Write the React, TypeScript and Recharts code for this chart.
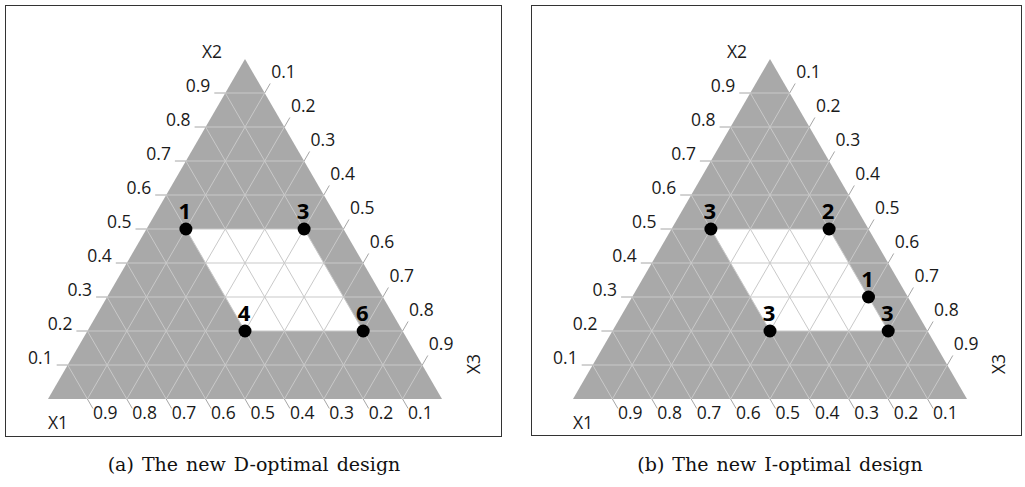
import { ComposedChart, Area, Scatter, XAxis, YAxis, ReferenceLine } from 'recharts';

// grid levels shown on every side of the simplex
const LEVELS = [0.1, 0.2, 0.3, 0.4, 0.5, 0.6, 0.7, 0.8, 0.9];
const LEVEL_LABELS = ['0.1', '0.2', '0.3', '0.4', '0.5', '0.6', '0.7', '0.8', '0.9'];
const AXIS_NAMES = ['X1', 'X2', 'X3'];

// constrained region: 0.1 <= X1 <= 0.4, 0.2 <= X2 <= 0.5
const X1_RANGE = [0.1, 0.4];
const X2_RANGE = [0.2, 0.5];

// design points as (X1, X2, X3) with the number of replicates
const D_POINTS = [
  [0.4, 0.5, 0.1],
  [0.1, 0.5, 0.4],
  [0.4, 0.2, 0.4],
  [0.1, 0.2, 0.7],
];
const D_COUNTS = ['1', '3', '4', '6'];

const I_POINTS = [
  [0.4, 0.5, 0.1],
  [0.1, 0.5, 0.4],
  [0.1, 0.3, 0.6],
  [0.4, 0.2, 0.4],
  [0.1, 0.2, 0.7],
];
const I_COUNTS = ['3', '2', '1', '3', '3'];

const CAPTIONS = ['(a) The new D-optimal design', '(b) The new I-optimal design'];

// layout (pixels)
const SIDE = 394;
const TRI_H = 340;
const TICK_LEN = 11;
const FONT = '"Open Sans", "Noto Sans", sans-serif';
const FS = 17.5;
const GRAY = '#a9a9a9';
const GRID = '#c9c9c9';
const TEXT = '#1a1a1a';

const PANELS = [
  { left: 5, top: 5, width: 497, height: 432, triX: 48, triY: 399, capX: 254 },
  { left: 531, top: 5, width: 491, height: 431, triX: 573, triY: 399, capX: 780 },
];

// ternary (X1, X2, X3) -> plane, y is X2 itself
const toXY = (x1: number, x2: number, x3: number) => ({ x: x3 + x2 / 2, y: x2 });

const triangle = [toXY(1, 0, 0), toXY(0, 1, 0), toXY(0, 0, 1)];

function whiteRegion() {
  const tl = toXY(X1_RANGE[1], X2_RANGE[1], 1 - X1_RANGE[1] - X2_RANGE[1]);
  const tr = toXY(X1_RANGE[0], X2_RANGE[1], 1 - X1_RANGE[0] - X2_RANGE[1]);
  const bl = toXY(X1_RANGE[1], X2_RANGE[0], 1 - X1_RANGE[1] - X2_RANGE[0]);
  const br = toXY(X1_RANGE[0], X2_RANGE[0], 1 - X1_RANGE[0] - X2_RANGE[0]);
  return [
    { x: tl.x, range: [tl.y, tl.y] },
    { x: bl.x, range: [bl.y, tl.y] },
    { x: tr.x, range: [bl.y, tr.y] },
    { x: br.x, range: [br.y, br.y] },
  ];
}

// grid segments and their tick extensions
function gridLines() {
  const lines: { a: any; b: any }[] = [];
  const ticks: { a: any; b: any }[] = [];
  const lx = TICK_LEN / SIDE;
  const sl = TICK_LEN / Math.sqrt((0.5 * SIDE) ** 2 + TRI_H ** 2);
  LEVELS.forEach((k) => {
    // X2 = k
    const l0 = toXY(1 - k, k, 0);
    lines.push({ a: l0, b: toXY(0, k, 1 - k) });
    ticks.push({ a: l0, b: { x: l0.x - lx, y: l0.y } });
    // X3 = k
    const r0 = toXY(0, 1 - k, k);
    lines.push({ a: toXY(1 - k, 0, k), b: r0 });
    ticks.push({ a: r0, b: { x: r0.x + 0.5 * sl, y: r0.y + sl } });
    // X1 = k
    const b0 = toXY(k, 0, 1 - k);
    lines.push({ a: b0, b: toXY(k, 1 - k, 0) });
    ticks.push({ a: b0, b: { x: b0.x + 0.5 * sl, y: b0.y - sl } });
  });
  return { lines, ticks };
}

function tickLabels() {
  const lx = TICK_LEN / SIDE;
  const sl = TICK_LEN / Math.sqrt((0.5 * SIDE) ** 2 + TRI_H ** 2);
  const out: any[] = [];
  LEVELS.forEach((k, i) => {
    const l0 = toXY(1 - k, k, 0);
    out.push({ x: l0.x - lx, y: l0.y, text: LEVEL_LABELS[i], anchor: 'end', dx: -4, dy: -1 });
    const r0 = toXY(0, 1 - k, k);
    out.push({ x: r0.x + 0.5 * sl, y: r0.y + sl, text: LEVEL_LABELS[i], anchor: 'start', dx: 1, dy: -5 });
    const b0 = toXY(k, 0, 1 - k);
    out.push({ x: b0.x + 0.5 * sl, y: b0.y - sl, text: LEVEL_LABELS[i], anchor: 'start', dx: 0, dy: 10 });
  });
  const [c1, c2, c3] = triangle;
  out.push({ x: c1.x, y: c1.y, text: AXIS_NAMES[0], anchor: 'middle', dx: 10, dy: 30 });
  out.push({ x: c2.x, y: c2.y, text: AXIS_NAMES[1], anchor: 'middle', dx: -33, dy: -1 });
  out.push({ x: c3.x, y: c3.y, text: AXIS_NAMES[2], anchor: 'middle', dx: 31, dy: -35, rotate: true });
  return out;
}

const TextShape = (props: any) => {
  const { cx, cy, payload } = props;
  const x = cx + payload.dx;
  const y = cy + payload.dy;
  if (payload.rotate) {
    return (
      <text x={x} y={y} textAnchor="middle" dominantBaseline="central" transform={`rotate(-90 ${x} ${y})`}
        fontFamily={FONT} fontSize={FS} fill={TEXT}>{payload.text}</text>
    );
  }
  return (
    <text x={x} y={y} textAnchor={payload.anchor} fontFamily={FONT} fontSize={FS} fill={TEXT}>
      {payload.text}
    </text>
  );
};

const DotShape = (props: any) => <circle cx={props.cx} cy={props.cy} r={6.5} fill="#000" />;

const CountShape = (props: any) => (
  <text x={props.cx - 1} y={props.cy - 10} textAnchor="middle" fontFamily={FONT} fontWeight="bold" fontSize={22} fill="#000">
    {props.payload.count}
  </text>
);

function Panel({ geo, points, counts, caption }: any) {
  const innerLeft = geo.left + 1;
  const innerTop = geo.top + 1;
  const w = geo.width - 2;
  const h = geo.height - 2;
  const xDomain = [(innerLeft - geo.triX) / SIDE, (innerLeft + w - geo.triX) / SIDE];
  const yDomain = [(geo.triY - (innerTop + h)) / TRI_H, (geo.triY - innerTop) / TRI_H];

  const { lines, ticks } = gridLines();
  const labels = tickLabels();
  const design = points.map((p: number[], i: number) => ({ ...toXY(p[0], p[1], p[2]), count: counts[i] }));

  return (
    <>
      <div style={{ position: 'absolute', left: geo.left, top: geo.top, width: geo.width, height: geo.height,
        boxSizing: 'border-box', border: '1px solid #333' }}>
        <ComposedChart width={w} height={h} margin={{ top: 0, right: 0, bottom: 0, left: 0 }}>
          <XAxis type="number" dataKey="x" domain={xDomain} allowDataOverflow hide />
          <YAxis type="number" domain={yDomain} allowDataOverflow hide />
          <Area data={triangle} dataKey="y" type="linear" baseValue={0} fill={GRAY} fillOpacity={1}
            stroke="none" isAnimationActive={false} />
          <Area data={whiteRegion()} dataKey="range" type="linear" fill="#fff" fillOpacity={1}
            stroke="none" isAnimationActive={false} />
          {lines.map((s, i) => (
            <ReferenceLine key={`g${i}`} segment={[s.a, s.b]} stroke={GRID} strokeWidth={1} ifOverflow="visible" />
          ))}
          {ticks.map((s, i) => (
            <ReferenceLine key={`t${i}`} segment={[s.a, s.b]} stroke="#a6a6a6" strokeWidth={1} ifOverflow="visible" />
          ))}
          <Scatter data={labels} dataKey="y" shape={TextShape} isAnimationActive={false} />
          <Scatter data={design} dataKey="y" shape={DotShape} isAnimationActive={false} />
          <Scatter data={design} dataKey="y" shape={CountShape} isAnimationActive={false} />
        </ComposedChart>
      </div>
      <div style={{ position: 'absolute', left: geo.capX - 200, top: 453, width: 400, textAlign: 'center',
        fontFamily: '"DejaVu Serif", serif', fontSize: 19, wordSpacing: 2, color: '#111' }}>
        {caption}
      </div>
    </>
  );
}

export default function App() {
  return (
    <div style={{ position: 'absolute', left: 0, top: 0, width: 1025, height: 487, background: '#fff' }}>
      <Panel geo={PANELS[0]} points={D_POINTS} counts={D_COUNTS} caption={CAPTIONS[0]} />
      <Panel geo={PANELS[1]} points={I_POINTS} counts={I_COUNTS} caption={CAPTIONS[1]} />
    </div>
  );
}
